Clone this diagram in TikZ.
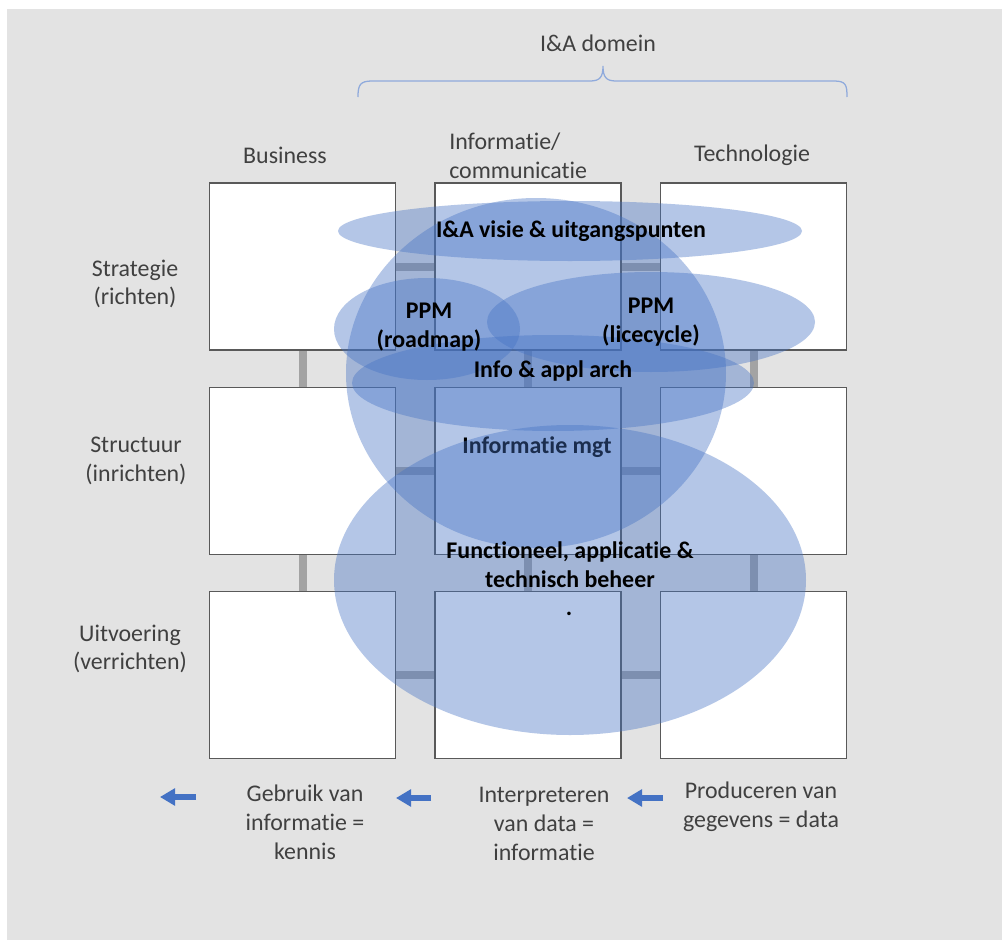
\documentclass[tikz,border=0pt]{standalone}
\usepackage{fontspec}
\setmainfont[Ligatures={NoCommon,NoContextual}, RawFeature={-liga;-clig;-calt}]{Carlito}
\usetikzlibrary{arrows.meta}
\definecolor{pagegray}{HTML}{E3E3E3}
\definecolor{accent}{HTML}{4472C4}
\definecolor{textgray}{HTML}{404040}
\definecolor{bargray}{HTML}{A3A3A3}
\definecolor{bracecol}{HTML}{8FAADC}

\begin{document}
\begin{tikzpicture}
    [ x=0.025cm, y=-0.025cm
    , every node/.style={font=\fontsize{17}{20.5}\selectfont, align=center, inner sep=0pt}
    , caption/.style={text=textgray}
    , cell/.style={draw=black!65, line width=0.9pt, fill=white, minimum width=4.65cm, minimum height=4.17cm}
    , bar/.style={bargray, line width=0.2cm}
    , blob/.style={fill=accent, fill opacity=0.4}
    , blobtext/.style={font=\fontsize{17}{20.5}\selectfont\bfseries}
    , flow/.style={accent, line width=0.15cm, -{Triangle[length=0.38cm, width=0.42cm]}}
    ]
\useasboundingbox (0,0) rectangle (1002,940);
\fill[white] (0,0) rectangle (1002,940);
\fill[pagegray] (7,9) rectangle (1002,940);

% grid of cells
\foreach \c/\x in {1/302.5,2/528,3/753.5}
  \foreach \r/\y in {1/266.5,2/471,3/675}
    \coordinate (c\r\c) at (\x,\y);
\foreach \r in {1,2,3}
  \draw[bar] (c\r1) -- (c\r3);
\foreach \c in {1,2,3}
  \draw[bar] (c1\c) -- (c3\c);
\foreach \r in {1,2,3}
  \foreach \c in {1,2,3}
    \node[cell] (b\r\c) at (c\r\c) {};

% domain brace
\node[caption] (domein) at (598,43) {I\&A domein};
\draw[bracecol, line width=0.9pt] (358,97) .. controls (358,85) and (360,81) .. (372,81)
  -- (590,81) .. controls (600,81) and (603,77) .. (603,66)
  .. controls (603,77) and (606,81) .. (616,81)
  -- (834,81) .. controls (846,81) and (847,85) .. (847,97);

\node[caption] (business) at (285,155) {Business};
\node[caption, anchor=west, align=left] (infocom) at (449,156) {Informatie/\\communicatie};
\node[caption] (techno) at (752,155) {Technologie};

\node[caption] (strategie) at (135,284) {Strategie\\(richten)};
\node[caption] (structuur) at (136,461) {Structuur\\(inrichten)};
\node[caption] (uitvoering) at (130,649) {Uitvoering\\(verrichten)};

% overlapping areas
\fill[blob] (570,231) ellipse [x radius=232, y radius=30];
\fill[blob] (536,373) ellipse [x radius=190, y radius=175];
\fill[blob] (427,329) ellipse [x radius=93, y radius=51];
\fill[blob] (651,322) ellipse [x radius=164, y radius=50];
\fill[blob] (553,383) ellipse [x radius=201, y radius=48];
\node[blobtext] (infomgt) at (537,447) {Informatie mgt};
\fill[blob] (570,580) ellipse [x radius=236, y radius=155];

\node[blobtext] (visie) at (571,231) {I\&A visie \& uitgangspunten};
\node[blobtext] (roadmap) at (429,327) {PPM\\(roadmap)};
\node[blobtext] (lifecycle) at (651,322) {PPM\\(licecycle)};
\node[blobtext] (archi) at (553,371) {Info \& appl arch};
\node[blobtext] (beheer) at (570,565) {Functioneel, applicatie \&\\technisch beheer};
\node[blobtext] (punt) at (569,614) {.};

% information flow
\coordinate (f1s) at (196,797);
\coordinate (f1e) at (160,797);
\coordinate (f2s) at (431,798);
\coordinate (f2e) at (396,798);
\coordinate (f3s) at (663,798);
\coordinate (f3e) at (627,798);
\foreach \i in {1,2,3}
  \draw[flow] (f\i s) -- (f\i e);

\node[caption] (gebruik) at (305,822) {Gebruik van\\informatie =\\kennis};
\node[caption] (interpret) at (544,824) {Interpreteren\\van data =\\informatie};
\node[caption] (produceer) at (761,807) {Produceren van\\gegevens = data};

\end{tikzpicture}
\end{document}
